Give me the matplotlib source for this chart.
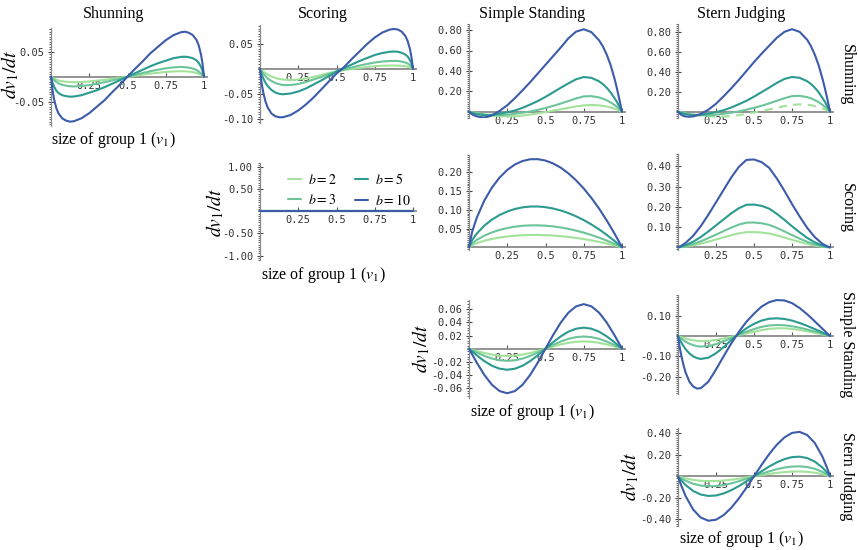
import matplotlib
matplotlib.use('Agg')
import matplotlib.pyplot as plt
from matplotlib.ticker import MultipleLocator

plt.rcParams['mathtext.fontset'] = 'stix'

W, H = 858, 550

# ---------------- data ----------------
STRATEGIES = ['Shunning', 'Scoring', 'Simple Standing', 'Stern Judging']
B_LABELS = ['$b = 2$', '$b = 3$', '$b = 5$', '$b = 10$']
COLORS = ['#a3e29a', '#6cc49a', '#2b9a8f', '#3c5ba9']

# coarse grid (smooth panels)
X = [0, 0.02, 0.05, 0.1, 0.15, 0.2, 0.25, 0.3, 0.35, 0.4, 0.45, 0.5,
     0.55, 0.6, 0.65, 0.7, 0.75, 0.8, 0.85, 0.9, 0.95, 0.98, 1]
# fine grid (panels with sharp turns near the ends)
XF = [0, 0.01, 0.02, 0.035, 0.05, 0.075, 0.1, 0.125, 0.15, 0.2, 0.25, 0.3, 0.35, 0.4, 0.45, 0.5,
      0.55, 0.6, 0.65, 0.7, 0.75, 0.8, 0.85, 0.875, 0.9, 0.925, 0.95, 0.965, 0.98, 0.99, 1]
X_FLAT = [0, 0.5, 1]

XTICKS = [0.25, 0.5, 0.75, 1]
XTICKLABELS = ['0.25', '0.5', '0.75', '1']

# row Shunning, column Shunning  (b=2, b=3, b=5, b=10) on XF
SHUN_SHUN = [
    [0, -0.0022, -0.0039, -0.0058, -0.0077, -0.0092, -0.0102, -0.0108, -0.011, -0.0106, -0.0095, -0.0079,
     -0.0062, -0.0042, -0.0021, 0, 0.0021, 0.0042, 0.0062, 0.0079, 0.0095, 0.0106, 0.011, 0.0108, 0.0102,
     0.0092, 0.0077, 0.0058, 0.0039, 0.0022, 0],
    [0, -0.0039, -0.0068, -0.0103, -0.0137, -0.0164, -0.0181, -0.0191, -0.0195, -0.0187, -0.0168, -0.0140,
     -0.0109, -0.0074, -0.0037, 0, 0.0037, 0.0074, 0.0109, 0.0140, 0.0168, 0.0187, 0.0195, 0.0191, 0.0181,
     0.0164, 0.0137, 0.0103, 0.0068, 0.0039, 0],
    [0, -0.012, -0.020, -0.028, -0.033, -0.0372, -0.039, -0.040, -0.0396, -0.037, -0.032, -0.027,
     -0.021, -0.014, -0.007, 0, 0.007, 0.014, 0.021, 0.027, 0.032, 0.037, 0.0396, 0.040, 0.039,
     0.0372, 0.033, 0.028, 0.020, 0.012, 0],
    [0, -0.027, -0.045, -0.063, -0.074, -0.0837, -0.088, -0.090, -0.089, -0.083, -0.073, -0.060,
     -0.047, -0.031, -0.016, 0, 0.016, 0.031, 0.047, 0.060, 0.073, 0.083, 0.089, 0.090, 0.088,
     0.0837, 0.074, 0.063, 0.045, 0.027, 0],
]
# row Shunning, column Scoring (XF)
SHUN_SCOR = [
    [0, -0.003, -0.005, -0.008, -0.011, -0.015, -0.018, -0.020, -0.021, -0.022, -0.021, -0.019,
     -0.016, -0.012, -0.008, -0.005, -0.002, 0.0, 0.002, 0.004, 0.0055, 0.0065, 0.007, 0.007, 0.0068,
     0.0063, 0.0055, 0.0047, 0.003, 0.0018, 0],
    [0, -0.005, -0.009, -0.014, -0.019, -0.024, -0.028, -0.0305, -0.032, -0.032, -0.030, -0.026,
     -0.021, -0.016, -0.010, -0.005, -0.001, 0.003, 0.007, 0.010, 0.013, 0.015, 0.016, 0.0163, 0.016,
     0.0148, 0.013, 0.011, 0.008, 0.0048, 0],
    [0, -0.010, -0.018, -0.027, -0.034, -0.042, -0.047, -0.0497, -0.0505, -0.049, -0.045, -0.039,
     -0.031, -0.023, -0.014, -0.005, 0.002, 0.009, 0.016, 0.022, 0.028, 0.032, 0.0345, 0.035, 0.0345,
     0.0325, 0.029, 0.025, 0.018, 0.011, 0],
    [0, -0.027, -0.045, -0.064, -0.077, -0.089, -0.0945, -0.0965, -0.0965, -0.092, -0.083, -0.071,
     -0.057, -0.041, -0.025, -0.009, 0.004, 0.020, 0.035, 0.050, 0.063, 0.073, 0.079, 0.080, 0.079,
     0.075, 0.066, 0.056, 0.040, 0.024, 0],
]
# row Shunning, column Simple Standing (XF)
SHUN_SIMP = [
    [0, -0.003, -0.006, -0.010, -0.015, -0.021, -0.028, -0.033, -0.038, -0.044, -0.046, -0.044,
     -0.038, -0.028, -0.016, -0.004, 0.010, 0.024, 0.038, 0.052, 0.062, 0.066, 0.062, 0.057, 0.050,
     0.041, 0.030, 0.022, 0.013, 0.0065, 0],
    [0, -0.004, -0.008, -0.013, -0.018, -0.024, -0.030, -0.033, -0.035, -0.035, -0.030, -0.020,
     -0.010, 0.002, 0.018, 0.036, 0.057, 0.080, 0.105, 0.130, 0.150, 0.153, 0.140, 0.128, 0.112,
     0.092, 0.067, 0.050, 0.030, 0.015, 0],
    [0, -0.006, -0.012, -0.019, -0.024, -0.029, -0.032, -0.032, -0.030, -0.020, -0.006, 0.012,
     0.038, 0.070, 0.105, 0.145, 0.190, 0.235, 0.278, 0.318, 0.340, 0.332, 0.298, 0.270, 0.235,
     0.190, 0.135, 0.100, 0.060, 0.030, 0],
    [0, -0.014, -0.025, -0.037, -0.045, -0.053, -0.055, -0.049, -0.036, 0.008, 0.063, 0.133,
     0.210, 0.290, 0.375, 0.460, 0.545, 0.630, 0.720, 0.785, 0.808, 0.780, 0.700, 0.640, 0.560,
     0.460, 0.330, 0.240, 0.140, 0.070, 0],
]
# row Shunning, column Stern Judging (XF)
SHUN_STERN = [
    [0, -0.003, -0.006, -0.011, -0.016, -0.023, -0.030, -0.035, -0.040, -0.047, -0.050, -0.049,
     -0.044, -0.035, -0.022, -0.008, 0.008, 0.024, 0.040, 0.056, 0.069, 0.074, 0.070, 0.065, 0.057,
     0.047, 0.034, 0.025, 0.015, 0.0075, 0],
    [0, -0.004, -0.008, -0.013, -0.019, -0.025, -0.031, -0.035, -0.037, -0.037, -0.031, -0.021,
     -0.010, 0.003, 0.020, 0.039, 0.060, 0.084, 0.110, 0.136, 0.157, 0.160, 0.147, 0.134, 0.117,
     0.096, 0.070, 0.052, 0.031, 0.016, 0],
    [0, -0.006, -0.012, -0.019, -0.025, -0.030, -0.033, -0.032, -0.030, -0.020, -0.005, 0.015,
     0.042, 0.075, 0.110, 0.152, 0.197, 0.243, 0.290, 0.330, 0.350, 0.342, 0.307, 0.279, 0.242,
     0.196, 0.139, 0.103, 0.062, 0.031, 0],
    [0, -0.017, -0.030, -0.042, -0.048, -0.051, -0.047, -0.037, -0.022, 0.020, 0.080, 0.155,
     0.235, 0.320, 0.410, 0.500, 0.585, 0.665, 0.745, 0.805, 0.832, 0.805, 0.725, 0.660, 0.575,
     0.470, 0.335, 0.245, 0.145, 0.072, 0],
]
# row Scoring, column Scoring (all zero, X_FLAT)
SCOR_SCOR = [
    [0, 0, 0],
    [0, 0, 0],
    [0, 0, 0],
    [0, 0, 0],
]
# row Scoring, column Simple Standing (X)
SCOR_SIMP = [
    [0, 0.0057, 0.0110, 0.0175, 0.0223, 0.0261, 0.0289, 0.0309, 0.0322, 0.0329, 0.0329, 0.0324,
     0.0313, 0.0297, 0.0276, 0.0250, 0.0220, 0.0184, 0.0145, 0.0101, 0.0052, 0.0021, 0],
    [0, 0.0101, 0.0195, 0.0311, 0.0397, 0.0464, 0.0514, 0.0550, 0.0574, 0.0585, 0.0586, 0.0576,
     0.0557, 0.0529, 0.0491, 0.0445, 0.0391, 0.0328, 0.0258, 0.0179, 0.0093, 0.0038, 0],
    [0, 0.0187, 0.0362, 0.0577, 0.0738, 0.0861, 0.0955, 0.1022, 0.1065, 0.1087, 0.1088, 0.1070,
     0.1034, 0.0982, 0.0912, 0.0826, 0.0726, 0.0609, 0.0479, 0.0332, 0.0173, 0.0071, 0],
    [0, 0.0405, 0.0782, 0.1246, 0.1594, 0.1860, 0.2063, 0.2208, 0.2301, 0.2348, 0.2350, 0.2313,
     0.2235, 0.2122, 0.1971, 0.1785, 0.1568, 0.1316, 0.1034, 0.0718, 0.0374, 0.0153, 0],
]
# row Scoring, column Stern Judging (X)
SCOR_STERN = [
    [0, 0.0011, 0.0038, 0.0098, 0.0181, 0.0279, 0.0385, 0.0491, 0.0596, 0.0687, 0.0747, 0.0751,
     0.0729, 0.0680, 0.0589, 0.0483, 0.0370, 0.0264, 0.0166, 0.0087, 0.0030, 0.0009, 0],
    [0, 0.0018, 0.0062, 0.0160, 0.0295, 0.0455, 0.0627, 0.0800, 0.0972, 0.1119, 0.1218, 0.1224,
     0.1187, 0.1107, 0.0959, 0.0787, 0.0603, 0.0431, 0.0271, 0.0141, 0.0049, 0.0015, 0],
    [0, 0.0032, 0.0106, 0.0276, 0.0509, 0.0784, 0.1081, 0.1378, 0.1675, 0.1929, 0.2099, 0.2109,
     0.2046, 0.1908, 0.1654, 0.1357, 0.1039, 0.0742, 0.0466, 0.0244, 0.0085, 0.0025, 0],
    [0, 0.0065, 0.0218, 0.0567, 0.1046, 0.1613, 0.2224, 0.2834, 0.3444, 0.3968, 0.4316, 0.4338,
     0.4207, 0.3924, 0.3401, 0.2790, 0.2136, 0.1526, 0.0959, 0.0501, 0.0174, 0.0052, 0],
]
# row Simple Standing, column Simple Standing (X)
SIMP_SIMP = [
    [0, -0.0014, -0.0034, -0.0065, -0.0089, -0.0105, -0.011, -0.0105, -0.0089, -0.0065, -0.0034, 0,
     0.0034, 0.0065, 0.0089, 0.0105, 0.011, 0.0105, 0.0089, 0.0065, 0.0034, 0.0014, 0],
    [0, -0.0023, -0.0057, -0.0109, -0.0150, -0.0176, -0.0185, -0.0176, -0.0150, -0.0109, -0.0057, 0,
     0.0057, 0.0109, 0.0150, 0.0176, 0.0185, 0.0176, 0.0150, 0.0109, 0.0057, 0.0023, 0],
    [0, -0.0040, -0.0099, -0.0188, -0.0259, -0.0304, -0.0320, -0.0304, -0.0259, -0.0188, -0.0099, 0,
     0.0099, 0.0188, 0.0259, 0.0304, 0.0320, 0.0304, 0.0259, 0.0188, 0.0099, 0.0040, 0],
    [0, -0.0085, -0.0209, -0.0398, -0.0548, -0.0644, -0.0677, -0.0644, -0.0548, -0.0398, -0.0209, 0,
     0.0209, 0.0398, 0.0548, 0.0644, 0.0677, 0.0644, 0.0548, 0.0398, 0.0209, 0.0085, 0],
]
# row Simple Standing, column Stern Judging (XF)
SIMP_STERN = [
    [0, -0.0025, -0.005, -0.0085, -0.012, -0.017, -0.021, -0.024, -0.025, -0.024, -0.019, -0.012,
     -0.004, 0.004, 0.013, 0.021, 0.029, 0.035, 0.038, 0.038, 0.035, 0.030, 0.023, 0.0195, 0.016,
     0.012, 0.008, 0.0056, 0.003, 0.0015, 0],
    [0, -0.006, -0.012, -0.020, -0.028, -0.038, -0.045, -0.050, -0.052, -0.050, -0.040, -0.026,
     -0.010, 0.006, 0.021, 0.034, 0.045, 0.052, 0.054, 0.053, 0.048, 0.041, 0.032, 0.027, 0.022,
     0.017, 0.011, 0.008, 0.0045, 0.0022, 0],
    [0, -0.016, -0.030, -0.048, -0.065, -0.086, -0.100, -0.109, -0.113, -0.107, -0.085, -0.055,
     -0.020, 0.010, 0.038, 0.060, 0.076, 0.085, 0.087, 0.084, 0.076, 0.064, 0.050, 0.042, 0.034,
     0.026, 0.017, 0.012, 0.007, 0.0035, 0],
    [0, -0.050, -0.090, -0.140, -0.180, -0.225, -0.249, -0.259, -0.257, -0.225, -0.165, -0.100,
     -0.037, 0.020, 0.070, 0.110, 0.145, 0.167, 0.177, 0.175, 0.162, 0.138, 0.107, 0.090, 0.072,
     0.054, 0.036, 0.025, 0.014, 0.007, 0],
]
# row Stern Judging, column Stern Judging (X)
STERN_STERN = [
    [0, -0.0088, -0.0200, -0.0337, -0.0418, -0.0449, -0.0439, -0.0393, -0.0319, -0.0225, -0.0116, 0,
     0.0116, 0.0225, 0.0319, 0.0393, 0.0439, 0.0449, 0.0418, 0.0337, 0.0200, 0.0088, 0],
    [0, -0.0182, -0.0413, -0.0696, -0.0863, -0.0928, -0.0907, -0.0812, -0.0659, -0.0464, -0.0239, 0,
     0.0239, 0.0464, 0.0659, 0.0812, 0.0907, 0.0928, 0.0863, 0.0696, 0.0413, 0.0182, 0],
    [0, -0.0359, -0.0813, -0.1369, -0.1698, -0.1826, -0.1784, -0.1598, -0.1297, -0.0913, -0.0470, 0,
     0.0470, 0.0913, 0.1297, 0.1598, 0.1784, 0.1826, 0.1698, 0.1369, 0.0813, 0.0359, 0],
    [0, -0.0811, -0.1838, -0.3097, -0.3842, -0.4132, -0.4037, -0.3614, -0.2935, -0.2066, -0.1064, 0,
     0.1064, 0.2066, 0.2935, 0.3614, 0.4037, 0.4132, 0.3842, 0.3097, 0.1838, 0.0811, 0],
]

# y ticks per panel
YT_SHUN_SHUN = [-0.05, 0.05];            YL_SHUN_SHUN = ['-0.05', '0.05']
YT_SHUN_SCOR = [-0.10, -0.05, 0.05];     YL_SHUN_SCOR = ['-0.10', '-0.05', '0.05']
YT_SHUN_SIMP = [0.2, 0.4, 0.6, 0.8];     YL_SHUN_SIMP = ['0.20', '0.40', '0.60', '0.80']
YT_SHUN_STERN = [0.2, 0.4, 0.6, 0.8];    YL_SHUN_STERN = ['0.20', '0.40', '0.60', '0.80']
YT_SCOR_SCOR = [-1.0, -0.5, 0.5, 1.0];   YL_SCOR_SCOR = ['-1.00', '-0.50', '0.50', '1.00']
YT_SCOR_SIMP = [0.05, 0.10, 0.15, 0.20]; YL_SCOR_SIMP = ['0.05', '0.10', '0.15', '0.20']
YT_SCOR_STERN = [0.1, 0.2, 0.3, 0.4];    YL_SCOR_STERN = ['0.10', '0.20', '0.30', '0.40']
YT_SIMP_SIMP = [-0.06, -0.04, -0.02, 0.02, 0.04, 0.06]
YL_SIMP_SIMP = ['-0.06', '-0.04', '-0.02', '0.02', '0.04', '0.06']
YT_SIMP_STERN = [-0.2, -0.1, 0.1];       YL_SIMP_STERN = ['-0.20', '-0.10', '0.10']
YT_STERN_STERN = [-0.4, -0.2, 0.2, 0.4]; YL_STERN_STERN = ['-0.40', '-0.20', '0.20', '0.40']

# ---------------- layout (pixel geometry) ----------------
# (x=0 px, x=1 px, y=0 px, px per unit, ymin, ymax, minor step)
PANELS = [
    (SHUN_SHUN, XF, YT_SHUN_SHUN, YL_SHUN_SHUN, (51, 204, 76.7, 500, -0.099, 0.097, 0.005), False),
    (SHUN_SCOR, XF, YT_SHUN_SCOR, YL_SHUN_SCOR, (260, 413, 69, 500, -0.1086, 0.088, 0.005), False),
    (SHUN_SIMP, XF, YT_SHUN_SIMP, YL_SHUN_SIMP, (469, 622, 111.7, 102, -0.06, 0.86, 0.02), False),
    (SHUN_STERN, XF, YT_SHUN_STERN, YL_SHUN_STERN, (678, 830, 111.7, 99.2, -0.06, 0.884, 0.02), True),
    (SCOR_SCOR, X_FLAT, YT_SCOR_SCOR, YL_SCOR_SCOR, (260, 413, 211.3, 44.3, -1.11, 1.10, 0.05), False),
    (SCOR_SIMP, X, YT_SCOR_SIMP, YL_SCOR_SIMP, (469, 622, 247.3, 375, -0.007, 0.246, 0.005), False),
    (SCOR_STERN, X, YT_SCOR_STERN, YL_SCOR_STERN, (678, 830, 247.3, 202.5, -0.013, 0.46, 0.01), False),
    (SIMP_SIMP, X, YT_SIMP_SIMP, YL_SIMP_SIMP, (469, 622, 348.7, 658, -0.0754, 0.074, 0.004), False),
    (SIMP_STERN, XF, YT_SIMP_STERN, YL_SIMP_STERN, (678, 830, 336, 203, -0.287, 0.202, 0.01), False),
    (STERN_STERN, X, YT_STERN_STERN, YL_STERN_STERN, (678, 830, 476.3, 107.5, -0.463, 0.447, 0.02), False),
]

fig = plt.figure(figsize=(W / 100, H / 100), dpi=100)

AXIS_GRAY = '#8a8a8a'
TICK_FONT = dict(family='DejaVu Sans Mono', size=7.5)
XLIM = (-0.006, 1.02)

axes = []
for data, xs, yt, yl, geo, dash_first in PANELS:
    x0, x1, yz, ppu, ymin, ymax, mstep = geo
    left = x0 + XLIM[0] * (x1 - x0)
    right = x0 + XLIM[1] * (x1 - x0)
    top = yz - ymax * ppu
    bottom = yz - ymin * ppu
    ax = fig.add_axes([left / W, 1 - bottom / H, (right - left) / W, (bottom - top) / H])
    ax.patch.set_alpha(0)
    for i, ys in enumerate(data):
        ls = (0, (4, 3)) if (dash_first and i == 0) else '-'
        ax.plot(xs, ys, color=COLORS[i], lw=1.5, ls=ls, label=B_LABELS[i],
                solid_capstyle='round', solid_joinstyle='round', zorder=3 + i)
    ax.set_xlim(*XLIM)
    ax.set_ylim(ymin, ymax)
    ax.spines['top'].set_visible(False)
    ax.spines['right'].set_visible(False)
    ax.spines['left'].set_position(('data', 0))
    ax.spines['bottom'].set_position(('data', 0))
    ax.spines['left'].set_color(AXIS_GRAY)
    ax.spines['left'].set_linewidth(0.9)
    ax.spines['bottom'].set_color(AXIS_GRAY)
    ax.spines['bottom'].set_linewidth(1.3)
    ax.spines['bottom'].set_zorder(2)
    ax.set_xticks(XTICKS)
    ax.set_xticklabels(XTICKLABELS, **TICK_FONT)
    ax.set_yticks(yt)
    ax.set_yticklabels(yl, **TICK_FONT)
    ax.yaxis.set_minor_locator(MultipleLocator(mstep))
    ax.tick_params(axis='x', direction='in', length=3, width=0.8, color='#555555',
                   pad=3, labelcolor='#333333')
    ax.tick_params(axis='y', which='major', direction='inout', length=4, width=0.8,
                   color='#444444', pad=3, labelcolor='#333333')
    ax.tick_params(axis='y', which='minor', direction='out', length=1.6, width=0.6,
                   color='#444444')
    axes.append(ax)

# legend in the Scoring/Scoring panel
leg = axes[4].legend(loc='upper left', bbox_to_anchor=(288 / W, 1 - 172 / H),
                     bbox_transform=fig.transFigure, ncol=2, frameon=False,
                     borderpad=0, borderaxespad=0, handlelength=0.9, handletextpad=0.55,
                     columnspacing=1.3, labelspacing=0.45, fontsize=10)

SERIF = 'Liberation Serif'

# column titles
TITLE_POS = [114, 323, 532, 741]
for name, xp in zip(STRATEGIES, TITLE_POS):
    fig.text(xp / W, 1 - 17.5 / H, name, ha='center', va='baseline',
             family=SERIF, fontsize=11.5)

# row labels
ROW_POS = [75, 207.5, 344, 476]
for name, yp in zip(STRATEGIES, ROW_POS):
    fig.text(847 / W, 1 - yp / H, name, ha='center', va='center', rotation=270,
             family=SERIF, fontsize=11.5)

# axis labels on diagonal panels
XLAB = [(113, 139.5), (323, 275), (532, 411.7), (741, 539.3)]
YLAB = [(10, 74), (215, 212), (421, 348), (630, 476)]
for (xp, yp) in XLAB:
    fig.text(xp / W, 1 - yp / H, 'size of group 1 ($v_1$)', ha='center', va='center',
             family=SERIF, fontsize=11.5)
for (xp, yp) in YLAB:
    fig.text(xp / W, 1 - yp / H, '$dv_1/dt$', ha='center', va='center', rotation=90,
             fontsize=14)

fig.savefig('out.png', dpi=100)
